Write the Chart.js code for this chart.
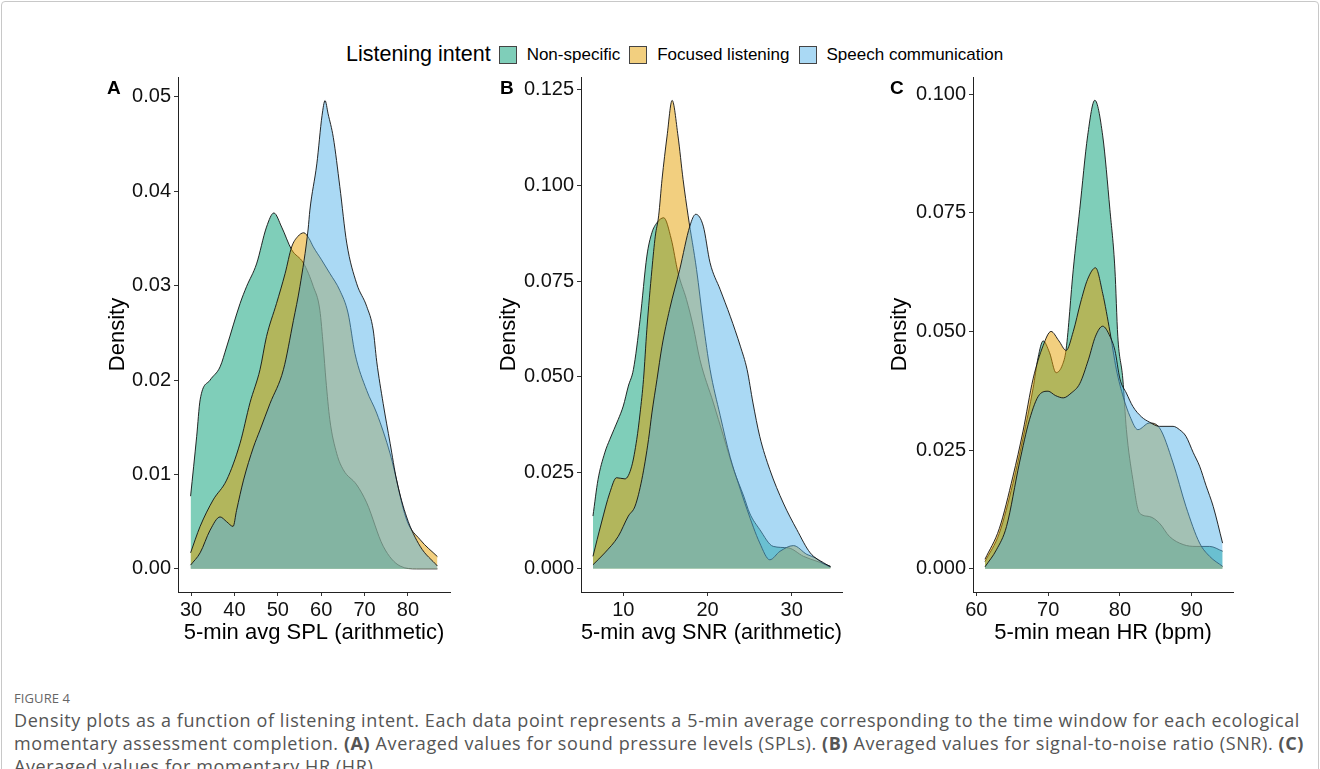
<!DOCTYPE html>
<html>
<head>
<meta charset="utf-8">
<script src="https://cdn.jsdelivr.net/npm/chart.js@4.4.0/dist/chart.umd.min.js"></script>
<style>
  body { margin: 0; background: #fff; width: 1320px; height: 769px; overflow: hidden; position: relative; font-family: "Liberation Sans", Arial, sans-serif; }
  .frame { position: absolute; left: 1px; top: 1px; width: 1316px; height: 780px; border: 1px solid #c8c8c8; border-radius: 4px; }
  canvas { position: absolute; }
  .tag { position: absolute; font-weight: bold; font-size: 19px; line-height: 1; color: #000; }
  .legend { position: absolute; left: 346px; top: 42px; display: flex; align-items: center; color: #000; }
  .legend .title { font-size: 21.5px; margin-right: 8px; }
  .legend .box { width: 18px; height: 18px; border: 1px solid #444; box-sizing: border-box; margin-right: 10px; }
  .legend .lab { font-size: 17px; margin-right: 9px; }
  .fig { position: absolute; left: 14px; top: 689px; font-family: "Open Sans", sans-serif; font-size: 13px; color: #666; letter-spacing: 0.1px; }
  .cap { position: absolute; left: 14px; top: 709px; font-family: "Open Sans", sans-serif; font-size: 18px; line-height: 23px; color: #555; white-space: nowrap; letter-spacing: 0.6px; }
</style>
</head>
<body>
<div class="frame"></div>

<div class="legend">
  <span class="title">Listening intent</span>
  <span class="box" style="background: rgba(0,158,115,0.5)"></span><span class="lab">Non-specific</span>
  <span class="box" style="background: rgba(230,159,0,0.5)"></span><span class="lab">Focused listening</span>
  <span class="box" style="background: rgba(86,180,233,0.5)"></span><span class="lab">Speech communication</span>
</div>

<canvas id="panelA" width="360" height="590" style="left:100px; top:60px"></canvas>
<canvas id="panelB" width="361" height="590" style="left:491px; top:60px"></canvas>
<canvas id="panelC" width="361" height="590" style="left:882px; top:60px"></canvas>

<div class="tag" style="left:107px; top:78px">A</div>
<div class="tag" style="left:500px; top:78px">B</div>
<div class="tag" style="left:890px; top:78px">C</div>

<div class="fig">FIGURE 4</div>
<div class="cap">Density plots as a function of listening intent. Each data point represents a 5-min average corresponding to the time window for each ecological<br>momentary assessment completion. <b>(A)</b> Averaged values for sound pressure levels (SPLs). <b>(B)</b> Averaged values for signal-to-noise ratio (SNR). <b>(C)</b><br>Averaged values for momentary HR (HR).</div>

<script>
// Panel A: 5-min avg SPL
var splXNon = [29.9, 31.3, 32.1, 34.4, 36.7, 38.2, 41.3, 42.8, 45.1, 47.4, 49.1, 50.9, 53.2, 55.9, 58.2, 59.7, 60.5, 61.1, 62.0, 63.6, 65.1, 68.2, 70.5, 74.3, 78.2, 82.0, 86.8];
var splDNon = [0.0077, 0.0140, 0.0179, 0.0200, 0.0214, 0.0235, 0.0281, 0.0299, 0.0323, 0.0362, 0.0377, 0.0362, 0.0338, 0.0324, 0.0299, 0.0274, 0.0235, 0.0200, 0.0158, 0.0122, 0.0105, 0.0089, 0.0070, 0.0024, 0.0003, 0.0000, 0.0000];
var splXFoc = [29.9, 32.1, 35.1, 38.2, 41.3, 43.6, 45.9, 47.4, 49.7, 51.7, 53.2, 54.6, 56.0, 57.2, 58.2, 60.0, 62.0, 64.3, 66.2, 67.8, 70.5, 72.8, 75.9, 79.7, 82.8, 86.8];
var splDFoc = [0.0017, 0.0045, 0.0073, 0.0094, 0.0133, 0.0176, 0.0211, 0.0246, 0.0281, 0.0313, 0.0341, 0.0352, 0.0356, 0.0350, 0.0341, 0.0328, 0.0313, 0.0295, 0.0271, 0.0228, 0.0189, 0.0165, 0.0122, 0.0052, 0.0031, 0.0013];
var splXSpe = [29.9, 32.1, 34.4, 36.7, 38.2, 39.7, 40.5, 42.1, 44.4, 45.9, 48.2, 51.3, 53.6, 55.1, 57.0, 57.4, 59.0, 60.2, 60.9, 61.6, 62.8, 64.3, 65.9, 68.2, 70.5, 72.0, 72.8, 74.3, 75.9, 77.4, 79.7, 82.8, 86.8];
var splDSpe = [0.0004, 0.0017, 0.0041, 0.0055, 0.0050, 0.0045, 0.0062, 0.0094, 0.0129, 0.0147, 0.0175, 0.0211, 0.0263, 0.0299, 0.0360, 0.0380, 0.0429, 0.0480, 0.0496, 0.0482, 0.0457, 0.0405, 0.0345, 0.0302, 0.0278, 0.0253, 0.0220, 0.0175, 0.0133, 0.0094, 0.0055, 0.0024, 0.0003];

// Panel B: 5-min avg SNR
var snrXNon = [6.4, 7.0, 7.8, 8.4, 9.4, 10.0, 10.6, 11.2, 12.0, 12.8, 13.4, 14.0, 14.8, 15.7, 16.5, 17.5, 18.3, 19.1, 20.7, 21.9, 23.1, 24.3, 25.0, 26.2, 27.8, 29.6, 31.4, 33.0, 34.6];
var snrDNon = [0.0137, 0.0232, 0.0302, 0.0337, 0.0389, 0.0424, 0.0476, 0.0519, 0.0650, 0.0815, 0.0876, 0.0902, 0.0915, 0.0859, 0.0772, 0.0702, 0.0632, 0.0545, 0.0432, 0.0345, 0.0258, 0.0189, 0.0145, 0.0102, 0.0058, 0.0054, 0.0032, 0.0019, 0.0006];
var snrXFoc = [6.4, 7.4, 8.4, 9.2, 10.2, 11.0, 11.6, 12.0, 12.4, 12.8, 13.4, 13.8, 14.2, 14.6, 15.2, 15.8, 16.5, 17.1, 17.7, 18.7, 19.5, 20.3, 21.5, 22.7, 23.7, 24.7, 26.2, 27.4, 28.6, 30.2, 31.8, 32.8, 33.6, 34.6];
var snrDFoc = [0.0032, 0.0119, 0.0198, 0.0237, 0.0234, 0.0267, 0.0337, 0.0406, 0.0493, 0.0624, 0.0780, 0.0867, 0.0920, 0.1015, 0.1128, 0.1221, 0.1128, 0.1015, 0.0920, 0.0780, 0.0640, 0.0520, 0.0400, 0.0290, 0.0220, 0.0154, 0.0067, 0.0023, 0.0045, 0.0060, 0.0037, 0.0028, 0.0015, 0.0004];
var snrXSpe = [6.4, 7.8, 9.4, 10.6, 11.4, 12.2, 13.0, 13.4, 14.0, 14.6, 15.5, 16.7, 17.9, 18.6, 19.5, 20.3, 21.5, 22.7, 23.9, 24.7, 25.4, 26.2, 27.4, 29.0, 30.6, 32.2, 33.8, 34.6];
var snrDSpe = [0.0010, 0.0041, 0.0084, 0.0137, 0.0163, 0.0232, 0.0337, 0.0406, 0.0493, 0.0580, 0.0676, 0.0780, 0.0893, 0.0924, 0.0893, 0.0798, 0.0728, 0.0658, 0.0580, 0.0519, 0.0432, 0.0345, 0.0258, 0.0171, 0.0102, 0.0041, 0.0015, 0.0005];

// Panel C: 5-min mean HR
var hrXNon = [61.2, 63.2, 65.1, 66.5, 67.9, 68.6, 69.3, 70.2, 71.1, 72.0, 72.5, 73.5, 74.4, 75.5, 76.5, 77.6, 78.6, 79.3, 79.7, 80.4, 80.9, 81.8, 82.7, 84.1, 85.5, 86.9, 88.8, 90.6, 92.5, 94.3];
var hrDNon = [0.0015, 0.0075, 0.0180, 0.0275, 0.0380, 0.0445, 0.0480, 0.0455, 0.0413, 0.0430, 0.0462, 0.0631, 0.0757, 0.0912, 0.0987, 0.0912, 0.0757, 0.0631, 0.0490, 0.0400, 0.0293, 0.0188, 0.0118, 0.0110, 0.0096, 0.0068, 0.0051, 0.0047, 0.0047, 0.0037];
var hrXFoc = [61.2, 63.2, 65.1, 66.5, 67.9, 69.3, 70.4, 71.5, 72.5, 73.5, 74.5, 75.5, 76.6, 77.6, 78.6, 79.5, 80.5, 81.4, 82.5, 84.1, 85.5, 87.4, 89.2, 91.1, 92.5, 94.3];
var hrDFoc = [0.0020, 0.0085, 0.0195, 0.0290, 0.0400, 0.0470, 0.0500, 0.0480, 0.0460, 0.0500, 0.0560, 0.0610, 0.0634, 0.0580, 0.0500, 0.0420, 0.0360, 0.0321, 0.0293, 0.0307, 0.0297, 0.0223, 0.0131, 0.0054, 0.0026, 0.0005];
var hrXSpe = [61.2, 62.8, 64.2, 66.0, 67.4, 68.8, 70.0, 71.0, 72.1, 73.2, 74.4, 75.6, 76.6, 77.6, 78.6, 79.3, 80.0, 80.9, 81.8, 83.0, 84.1, 85.5, 87.4, 88.3, 89.2, 90.2, 91.1, 92.0, 93.0, 94.3];
var hrDSpe = [0.0004, 0.0040, 0.0089, 0.0223, 0.0314, 0.0367, 0.0374, 0.0365, 0.0360, 0.0370, 0.0390, 0.0440, 0.0490, 0.0511, 0.0490, 0.0460, 0.0400, 0.0370, 0.0342, 0.0320, 0.0309, 0.0300, 0.0300, 0.0293, 0.0279, 0.0245, 0.0216, 0.0175, 0.0131, 0.0054];

var groups = ['Non-specific', 'Focused listening', 'Speech communication'];
var fills = ['rgba(0,158,115,0.5)', 'rgba(230,159,0,0.5)', 'rgba(86,180,233,0.5)'];

function toPoints(xs, ds) {
    return xs.map(function (x, i) { return { x: x, y: ds[i] }; });
}

function makePanel(id, series, opts) {
    var ctx = document.getElementById(id).getContext('2d');
    var tickFont = { family: '"Liberation Sans", Arial, sans-serif', size: 20 };
    var titleFont = { family: '"Liberation Sans", Arial, sans-serif', size: 22 };
    return new Chart(ctx, {
        type: 'line',
        data: {
            datasets: series.map(function (s, i) {
                return {
                    label: groups[i],
                    data: toPoints(s[0], s[1]),
                    order: 3 - i, // first group drawn first, speech on top
                    backgroundColor: fills[i],
                    borderColor: '#111',
                    borderWidth: 0.9,
                    fill: 'origin',
                    pointRadius: 0,
                    cubicInterpolationMode: 'monotone'
                };
            })
        },
        options: {
            responsive: false,
            animation: false,
            events: [],
            layout: { padding: { top: 17, right: 10, left: 0, bottom: 0 } },
            plugins: { legend: { display: false }, tooltip: { enabled: false } },
            scales: {
                x: {
                    type: 'linear',
                    min: opts.xMin, max: opts.xMax,
                    afterFit: function (scale) { scale.height = 58; },
                    grid: { drawOnChartArea: false, drawTicks: true, tickLength: 4, color: '#333' },
                    border: { display: true, color: '#222', width: 1 },
                    ticks: { stepSize: 10, includeBounds: false, autoSkip: false, maxRotation: 0, padding: 2, color: '#111', font: tickFont },
                    title: { display: true, text: opts.xTitle, color: '#000', font: titleFont, padding: { top: 0, bottom: 4 } }
                },
                y: {
                    min: opts.yMin, max: opts.yMax,
                    afterFit: function (scale) { scale.width = opts.yWidth; },
                    grid: { drawOnChartArea: false, drawTicks: true, tickLength: 4, color: '#333' },
                    border: { display: true, color: '#222', width: 1 },
                    ticks: {
                        stepSize: opts.yStep, includeBounds: false, padding: 3, color: '#111', font: tickFont,
                        callback: function (v) { return v.toFixed(opts.digits); }
                    },
                    title: { display: true, text: 'Density', color: '#000', font: titleFont, padding: { top: 5, bottom: 0 } }
                }
            }
        }
    });
}

makePanel('panelA', [[splXNon, splDNon], [splXFoc, splDFoc], [splXSpe, splDSpe]],
    { xMin: 27.0, xMax: 89.7, yMin: -0.00245, yMax: 0.0521, yStep: 0.01, digits: 2, yWidth: 78, xTitle: '5-min avg SPL (arithmetic)' });
makePanel('panelB', [[snrXNon, snrDNon], [snrXFoc, snrDFoc], [snrXSpe, snrDSpe]],
    { xMin: 4.98, xMax: 35.97, yMin: -0.0061, yMax: 0.1282, yStep: 0.025, digits: 3, yWidth: 90, xTitle: '5-min avg SNR (arithmetic)' });
makePanel('panelC', [[hrXNon, hrDNon], [hrXFoc, hrDFoc], [hrXSpe, hrDSpe]],
    { xMin: 59.53, xMax: 95.75, yMin: -0.0049, yMax: 0.1036, yStep: 0.025, digits: 3, yWidth: 91, xTitle: '5-min mean HR (bpm)' });
</script>
</body>
</html>
